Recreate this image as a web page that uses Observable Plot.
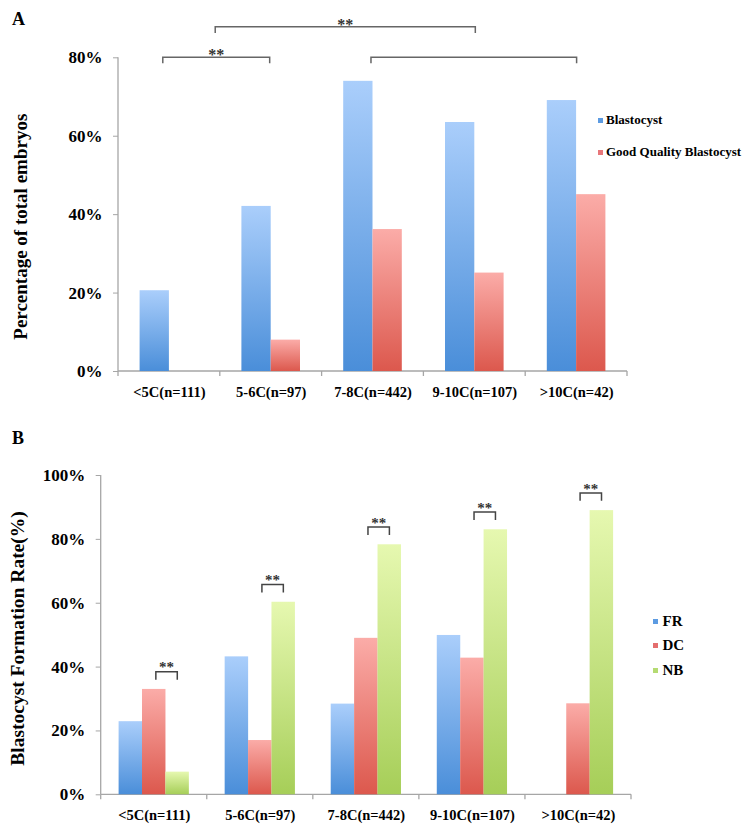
<!DOCTYPE html>
<html>
<head>
<meta charset="utf-8">
<script src="https://cdn.jsdelivr.net/npm/d3@7"></script>
<script src="https://cdn.jsdelivr.net/npm/@observablehq/plot@0.6"></script>
<style>
  body { margin: 0; background: #fff; }
  #wrap { position: relative; width: 750px; height: 831px; overflow: hidden; font-family: "Liberation Serif", "Times New Roman", serif; color: #000; }
  #wrap > svg { position: absolute; left: 0; }
  .plab { position: absolute; font-weight: bold; font-size: 18px; line-height: 20px; }
  .leg { position: absolute; font-weight: bold; white-space: nowrap; display: flex; align-items: center; height: 18px; }
  .leg i { display: inline-block; width: 5px; height: 5px; margin-right: 3px; }
  #wrap svg text { font-family: "Liberation Serif", "Times New Roman", serif; font-weight: bold; }
  #wrap svg [aria-label^="y-axis"] text { font-size: 17px; }
  #wrap svg [aria-label^="y-axis"] line, #wrap svg [aria-label^="y-axis"] path { stroke: #a6a6a6; }
  #wrap svg [aria-label^="x-axis"] text { font-size: 14.5px; }
</style>
</head>
<body>
<div id="wrap"></div>
<script>
// ---------- data ----------
const categories = ["<5C(n=111)", "5-6C(n=97)", "7-8C(n=442)", "9-10C(n=107)", ">10C(n=42)"];
// Panel A (% of total embryos)
const seriesA = ["Blastocyst", "Good Quality Blastocyst"];
const blastocyst = [20.6, 42.1, 74.0, 63.5, 69.1];
const goodQuality = [0, 8.0, 36.2, 25.1, 45.1];
const ticksA = [0, 20, 40, 60, 80];
// Panel B (blastocyst formation rate, %)
const seriesB = ["FR", "DC", "NB"];
const fr = [22.9, 43.2, 28.4, 49.9, 0];
const dc = [33.0, 17.0, 49.0, 42.8, 28.5];
const nb = [7.1, 60.3, 78.3, 83.0, 89.0];
const ticksB = [0, 20, 40, 60, 80, 100];
// significance brackets in panel A (category + fraction within its band, y in %)
const bracketsA = [
  {from: "<5C(n=111)", fromPos: 0.44, to: "5-6C(n=97)", toPos: 0.49, y: 80, leg: 1.5, label: "**"},
  {from: "<5C(n=111)", fromPos: 0.955, to: "9-10C(n=107)", toPos: 0.51, y: 87.8, leg: 1.6, label: "**"},
  {from: "7-8C(n=442)", fromPos: 0.485, to: ">10C(n=42)", toPos: 0.505, y: 80, leg: 1.5, label: ""}
];

// ---------- helpers ----------
const NS = "http://www.w3.org/2000/svg";
function el(tag, attrs = {}, text) {
  const e = document.createElementNS(NS, tag);
  for (const k in attrs) e.setAttribute(k, attrs[k]);
  if (text != null) e.textContent = text;
  return e;
}
function gradDefs(prefix) {
  return () => {
    const defs = el("defs");
    for (const [id, top, bottom] of [["blue", "#aacefb", "#4a8ed9"], ["red", "#fbaca8", "#dc584d"], ["green", "#e6f8b0", "#a6ce58"]]) {
      const lg = el("linearGradient", {id: prefix + id, x1: 0, y1: 0, x2: 0, y2: 1});
      lg.appendChild(el("stop", {offset: "0", "stop-color": top}));
      lg.appendChild(el("stop", {offset: "1", "stop-color": bottom}));
      defs.appendChild(lg);
    }
    return defs;
  };
}
function axesMark(yMax) {
  return (index, scales) => {
    const {x, y} = scales;
    const bw = x.bandwidth();
    const g = el("g", {stroke: "#a6a6a6", "stroke-width": 1.3, fill: "none"});
    const x0 = x(categories[0]);
    const x1 = x(categories[categories.length - 1]) + bw;
    g.appendChild(el("line", {x1: x0, x2: x0, y1: y(0), y2: y(yMax)}));
    g.appendChild(el("line", {x1: x0, x2: x1, y1: y(0), y2: y(0)}));
    const edges = categories.map(c => x(c)).concat([x1]);
    for (const e of edges) g.appendChild(el("line", {x1: e, x2: e, y1: y(0), y2: y(0) + 5}));
    return g;
  };
}
function bracketMark(brackets, color, fs, starShift) {
  return (index, scales) => {
    const {x, y} = scales;
    const bw = x.bandwidth();
    const g = el("g");
    for (const b of brackets) {
      const xa = x(b.from) + b.fromPos * bw, xb = x(b.to) + b.toPos * bw;
      const yt = y(b.y), yb = y(b.y - b.leg);
      g.appendChild(el("path", {d: `M${xa},${yb}V${yt}H${xb}V${yb}`, fill: "none", stroke: color, "stroke-width": 1.5}));
      if (b.label) {
        g.appendChild(el("text", {x: (xa + xb) / 2, y: yt + starShift, "text-anchor": "middle", "font-size": fs, fill: "#333"}, b.label));
      }
    }
    return g;
  };
}
function yTitle(text, cx, cy, fs) {
  return () => el("text", {transform: `translate(${cx},${cy}) rotate(-90)`, "text-anchor": "middle", "dominant-baseline": "central", "font-size": fs, fill: "#000"}, text);
}
const baseStyle = {fontFamily: "Liberation Serif, serif", fontWeight: "bold", fontSize: "14.5px", color: "#000", background: "#fff"};

// ---------- panel A ----------
const rowsA = categories.map((c, i) => ({cat: c, blast: blastocyst[i], good: goodQuality[i]}));
const plotA = Plot.plot({
  width: 750, height: 410,
  marginLeft: 118, marginRight: 123, marginTop: 57.3, marginBottom: 39,
  x: {domain: categories, padding: 0, round: false, tickSize: 0, tickPadding: 15, label: null},
  y: {domain: [0, 80], ticks: ticksA, tickFormat: d => d + "%", tickSize: 5, tickPadding: 11, label: null},
  style: baseStyle,
  marks: [
    gradDefs("gA-"),
    axesMark(80),
    Plot.barY(rowsA, {x: "cat", y: "blast", fill: "url(#gA-blue)", insetLeft: 21.6, insetRight: 50.9}),
    Plot.barY(rowsA, {x: "cat", y: "good", fill: "url(#gA-red)", insetLeft: 50.9, insetRight: 21.6}),
    bracketMark(bracketsA, "#666", 16, 2.9),
    yTitle("Percentage of total embryos", 20, 226.7, 19)
  ]
});

// ---------- panel B ----------
const rowsB = categories.map((c, i) => ({cat: c, fr: fr[i], dc: dc[i], nb: nb[i]}));
const bracketsB = rowsB.map(r => ({from: r.cat, fromPos: 0.52, to: r.cat, toPos: 0.722, y: Math.max(r.dc, r.nb) + 5.4, leg: 2.5, label: "**"}));
const plotB = Plot.plot({
  width: 750, height: 411,
  marginLeft: 100.7, marginRight: 119, marginTop: 55, marginBottom: 36.7,
  x: {domain: categories, padding: 0, round: false, tickSize: 0, tickPadding: 15, label: null},
  y: {domain: [0, 100], ticks: ticksB, tickFormat: d => d + "%", tickSize: 5, tickPadding: 11, label: null},
  style: baseStyle,
  marks: [
    gradDefs("gB-"),
    axesMark(100),
    Plot.barY(rowsB, {x: "cat", y: "fr", fill: "url(#gB-blue)", insetLeft: 17.9, insetRight: 64.7}),
    Plot.barY(rowsB, {x: "cat", y: "dc", fill: "url(#gB-red)", insetLeft: 41.3, insetRight: 41.3}),
    Plot.barY(rowsB, {x: "cat", y: "nb", fill: "url(#gB-green)", insetLeft: 64.7, insetRight: 17.9}),
    bracketMark(bracketsB, "#444", 15, 0.8),
    yTitle("Blastocyst Formation Rate(%)", 17, 218.5, 19.5)
  ]
});

// ---------- assemble ----------
const wrap = document.getElementById("wrap");
plotA.style.top = "0px";
plotB.style.top = "420px";
wrap.appendChild(plotA);
wrap.appendChild(plotB);

function addDiv(cls, css, html) {
  const d = document.createElement("div");
  d.className = cls;
  d.style.cssText = css;
  d.innerHTML = html;
  wrap.appendChild(d);
  return d;
}
addDiv("plab", "left:12px;top:9px;", "A");
addDiv("plab", "left:12px;top:428px;", "B");

const legA = [["#5c9be2", seriesA[0], 120], ["#e8767a", seriesA[1], 152]];
for (const [c, t, cy] of legA) {
  const d = addDiv("leg", `left:598px;top:${cy - 9}px;font-size:13px;`, "");
  const i = document.createElement("i"); i.style.background = c; d.appendChild(i);
  d.appendChild(document.createTextNode(t));
}
const legB = [["#5c9be2", seriesB[0], 621.7], ["#e46e6e", seriesB[1], 645], ["#b5db72", seriesB[2], 670]];
for (const [c, t, cy] of legB) {
  const d = addDiv("leg", `left:652.5px;top:${cy - 9}px;font-size:15px;`, "");
  const i = document.createElement("i"); i.style.background = c; i.style.marginRight = "5px"; d.appendChild(i);
  d.appendChild(document.createTextNode(t));
}
</script>
</body>
</html>
